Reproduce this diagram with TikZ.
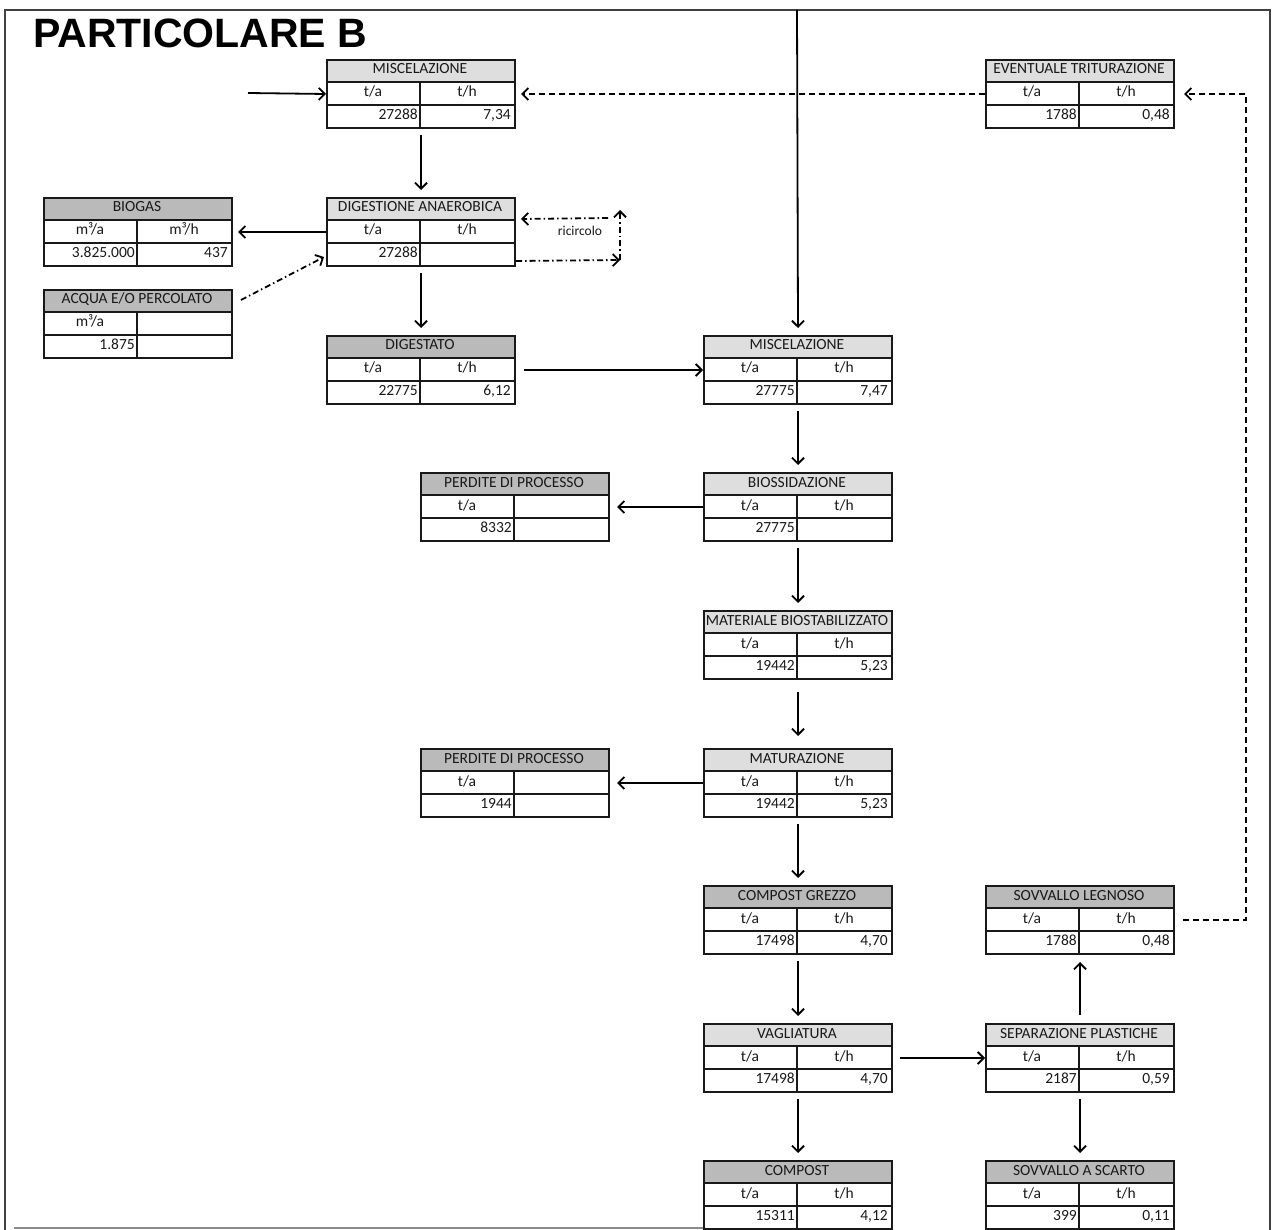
\documentclass[tikz,border=0pt]{standalone}
\usepackage{fontspec}
\setmainfont{Carlito}
\newfontfamily\titlefont{Liberation Sans}
\usetikzlibrary{arrows.meta}
\tikzset{
  tabbox/.style={draw=black!90,line width=2pt,minimum width=188pt,minimum height=68pt,inner sep=0pt},
  tabline/.style={draw=black!90,line width=2pt},
  celltext/.style={inner sep=0pt,text=black!90,font=\fontsize{15.5}{16}\selectfont,text height=10pt,text depth=3pt},
  headlight/.style={fill=black!13},
  headdark/.style={fill=black!27},
  flow/.style={line width=1.8pt,-{Straight Barb[length=6pt,width=12pt,line width=1.8pt]}},
  dashflow/.style={flow,dash pattern=on 6pt off 4pt},
  dotflow/.style={flow,dash pattern=on 6pt off 3pt on 1.5pt off 3pt},
}
% one table: name, x, y (top), header, header fill, units, values
\newcommand{\flowtab}[9]{%
  \fill[#5] (#2,-#3) rectangle ++(188,-23);
  \node[tabbox,anchor=north west] (#1) at (#2,-#3) {};
  \draw[tabline] (#2,-#3-23) -- ++(188,0) (#2,-#3-46) -- ++(188,0) (#2+94,-#3-23) -- ++(0,-45);
  \node[celltext] (#1-h) at (#2+94,-#3-11.5) {#4};
  \node[celltext] (#1-ua) at (#2+47,-#3-34.5) {#6};
  \node[celltext] (#1-uh) at (#2+141,-#3-34.5) {#7};
  \node[celltext,anchor=east] (#1-va) at (#2+92,-#3-57) {#8};
  \node[celltext,anchor=east] (#1-vh) at (#2+185,-#3-57) {#9};
}
\begin{document}
\begin{tikzpicture}[x=1pt,y=1pt]
\useasboundingbox (0,0) rectangle (1274,-1230);
% frame
\draw[black!75,line width=1.4pt] (5,-1230) -- (5,-10) -- (1270,-10) -- (1270,-1230);
\draw[black!45,line width=1.4pt] (14,-1228) -- (703,-1228);
\node[anchor=west,inner sep=0pt,font=\titlefont\bfseries\fontsize{41}{41}\selectfont] (title) at (33,-33) {PARTICOLARE B};

\flowtab{misc1}{326}{59}{MISCELAZIONE}{headlight}{t/a}{t/h}{27288}{7,34}
\flowtab{tritur}{985}{59}{EVENTUALE TRITURAZIONE}{headlight}{t/a}{t/h}{1788}{0,48}
\flowtab{biogas}{43}{197}{BIOGAS}{headdark}{m³/a}{m³/h}{3.825.000}{437}
\flowtab{digest}{326}{197}{DIGESTIONE ANAEROBICA}{headlight}{t/a}{t/h}{27288}{}
\flowtab{acqua}{43}{289}{ACQUA E/O PERCOLATO}{headdark}{m³/a}{}{1.875}{}
\flowtab{digestato}{326}{335}{DIGESTATO}{headdark}{t/a}{t/h}{22775}{6,12}
\flowtab{misc2}{703}{335}{MISCELAZIONE}{headlight}{t/a}{t/h}{27775}{7,47}
\flowtab{perdite1}{420}{472}{PERDITE DI PROCESSO}{headdark}{t/a}{}{8332}{}
\flowtab{biossid}{703}{472}{BIOSSIDAZIONE}{headlight}{t/a}{t/h}{27775}{}
\flowtab{matbio}{703}{610}{MATERIALE BIOSTABILIZZATO}{headlight}{t/a}{t/h}{19442}{5,23}
\flowtab{perdite2}{420}{748}{PERDITE DI PROCESSO}{headdark}{t/a}{}{1944}{}
\flowtab{matur}{703}{748}{MATURAZIONE}{headlight}{t/a}{t/h}{19442}{5,23}
\flowtab{grezzo}{703}{885}{COMPOST GREZZO}{headdark}{t/a}{t/h}{17498}{4,70}
\flowtab{legnoso}{985}{885}{SOVVALLO LEGNOSO}{headdark}{t/a}{t/h}{1788}{0,48}
\flowtab{vaglia}{703}{1023}{VAGLIATURA}{headlight}{t/a}{t/h}{17498}{4,70}
\flowtab{separ}{985}{1023}{SEPARAZIONE PLASTICHE}{headlight}{t/a}{t/h}{2187}{0,59}
\flowtab{compost}{703}{1160}{COMPOST}{headdark}{t/a}{t/h}{15311}{4,12}
\flowtab{scarto}{985}{1160}{SOVVALLO A SCARTO}{headdark}{t/a}{t/h}{399}{0,11}

% free ends
\coordinate (feedin) at (248,-93);
\coordinate (topin) at (797,-10);
\coordinate (rcdown) at (620,-260);
\coordinate (rcup) at (620,-210);
\coordinate (rcleft) at (608,-218);
\coordinate (rback) at (1246,-500);
\node[celltext,font=\fontsize{13.5}{14}\selectfont] (ricircolo) at (580,-232) {ricircolo};

% connectors
\draw[flow] (feedin) -- (misc1.west);
\draw[flow] (topin) -- ([yshift=7pt]misc2.north);
\draw[dashflow] (tritur.west) -- ([xshift=5pt]misc1.east);
\draw[flow,shorten <=6pt,shorten >=7pt] (misc1) -- (digest);
\draw[flow] (digest.west) -- ([xshift=5pt]biogas.east);
\draw[dotflow] ([shift={(8,-11)}]acqua.north east) -- ([shift={(-2,10)}]digest.south west);
\draw[dotflow] ([yshift=-29pt]digest.east) -- (rcdown);
\draw[dotflow] (rcdown) -- (rcup);
\draw[dotflow] (rcleft) -- ([shift={(5,13)}]digest.east);
\draw[flow,shorten <=6pt,shorten >=7pt] (digest) -- (digestato);
\draw[flow] ([xshift=8pt]digestato.east) -- (misc2.west);
\draw[flow,shorten <=6pt,shorten >=7pt] (misc2) -- (biossid);
\draw[flow] (biossid.west) -- ([xshift=7pt]perdite1.east);
\draw[flow,shorten <=6pt,shorten >=7pt] (biossid) -- (matbio);
\draw[flow,shorten <=12pt,shorten >=12pt] (matbio) -- (matur);
\draw[flow] (matur.west) -- ([xshift=7pt]perdite2.east);
\draw[flow,shorten <=6pt,shorten >=7pt] (matur) -- (grezzo);
\draw[flow,shorten <=6pt,shorten >=7pt] (grezzo) -- (vaglia);
\draw[flow] ([xshift=7pt]vaglia.east) -- (separ.west);
\draw[flow,shorten <=6pt,shorten >=7pt] (vaglia) -- (compost);
\draw[flow,shorten <=8pt,shorten >=7pt] (separ) -- (legnoso);
\draw[flow,shorten <=6pt,shorten >=7pt] (separ) -- (scarto);
\draw[dashflow] ([xshift=8pt]legnoso.east) -| (rback) |- ([xshift=9pt]tritur.east);
\end{tikzpicture}
\end{document}
